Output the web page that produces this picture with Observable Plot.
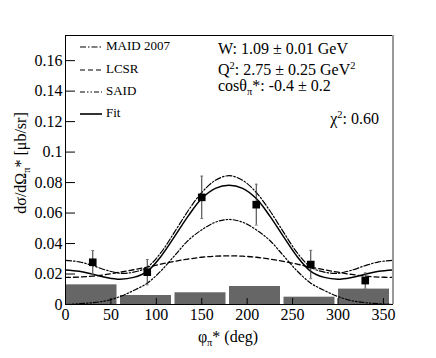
<!DOCTYPE html>
<html><head><meta charset="utf-8">
<script src="https://cdn.jsdelivr.net/npm/d3@7"></script>
<script src="https://cdn.jsdelivr.net/npm/@observablehq/plot@0.6"></script>
<style>
body{margin:0;background:#fff;}
#wrap{position:relative;width:436px;height:358px;font-family:"Liberation Serif","Times New Roman",serif;color:#000;}
#wrap svg, #wrap svg text{font-family:"Liberation Serif","Times New Roman",serif !important;}
#wrap svg g[aria-label="x-axis tick label"], #wrap svg g[aria-label="y-axis tick label"]{font-size:16px;}
.lab{position:absolute;white-space:nowrap;line-height:1;}
sub,sup{font-size:65%;line-height:0;}
.leg{position:absolute;left:80px;font-size:13px;line-height:1;white-space:nowrap;}
.leg svg{vertical-align:middle;margin-right:4px;}
</style></head><body><div id="wrap"></div>
<script>
// theory curves sampled every 15 degrees
const phiCurve = [0,15,30,45,60,75,90,105,120,135,150,165,180,195,210,225,240,255,270,285,300,315,330,345,360];
const maid2007 = [0.0290,0.0280,0.0255,0.0225,0.0205,0.0212,0.0245,0.0340,0.0475,0.0615,0.0735,0.0815,0.0845,0.0815,0.0735,0.0615,0.0475,0.0340,0.0245,0.0212,0.0205,0.0225,0.0255,0.0280,0.0290];
const lcsr = [0.0178,0.0180,0.0186,0.0197,0.0212,0.0228,0.0245,0.0265,0.0283,0.0298,0.0310,0.0317,0.0319,0.0317,0.0310,0.0298,0.0283,0.0265,0.0245,0.0228,0.0212,0.0197,0.0186,0.0180,0.0178];
const said = [0.0000,0.0005,0.0012,0.0025,0.0052,0.0092,0.0140,0.0220,0.0320,0.0420,0.0490,0.0540,0.0558,0.0540,0.0490,0.0420,0.0320,0.0220,0.0140,0.0092,0.0052,0.0025,0.0012,0.0005,0.0000];
const fit = [0.0227,0.0218,0.0198,0.0177,0.0166,0.0178,0.0218,0.0315,0.0445,0.0580,0.0695,0.0762,0.0783,0.0762,0.0695,0.0580,0.0445,0.0315,0.0218,0.0178,0.0166,0.0177,0.0198,0.0218,0.0227];

// measured points
const phiData = [30,90,150,210,270,330];
const sigma = [0.0277,0.0212,0.0703,0.0655,0.0262,0.0157];
const sigmaErr = [0.0077,0.0083,0.0139,0.0134,0.0093,0.0050];

// systematic error bars
const binLo = [0,60,120,180,240,300];
const binHi = [60,120,180,240,300,360];
const sysErr = [0.0129,0.0059,0.0077,0.0118,0.0048,0.0101];

const xTicks = [0,50,100,150,200,250,300,350];
const yTicks = [0,0.02,0.04,0.06,0.08,0.1,0.12,0.14,0.16];

const curves = phiCurve.map((p,i)=>({p, maid:maid2007[i], lcsr:lcsr[i], said:said[i], fit:fit[i]}));
const pts = phiData.map((p,i)=>({p, y:sigma[i], e:sigmaErr[i]}));
const bars = binLo.map((lo,i)=>({lo, hi:binHi[i], v:sysErr[i]}));

const chart = Plot.plot({
  width: 436, height: 358,
  marginLeft: 65, marginTop: 35, marginRight: 44, marginBottom: 54,
  style: {fontFamily: '"Liberation Serif","Times New Roman",serif', fontSize: "16px", color: "#000", background: "#fff"},
  x: {domain: [0,360], label: null},
  y: {domain: [0,0.1765], label: null},
  marks: [
    Plot.rectY(bars, {x1:"lo", x2:"hi", y:"v", fill:"#666", insetLeft:0.5, insetRight:3}),
    Plot.line(curves, {x:"p", y:"said", stroke:"#000", strokeWidth:1.2, strokeDasharray:"5,2,1.5,2,1.5,2", curve:"catmull-rom"}),
    Plot.line(curves, {x:"p", y:"lcsr", stroke:"#000", strokeWidth:1.3, strokeDasharray:"5,3", curve:"catmull-rom"}),
    Plot.line(curves, {x:"p", y:"maid", stroke:"#000", strokeWidth:1.2, strokeDasharray:"6,2,1.5,2", curve:"catmull-rom"}),
    Plot.line(curves, {x:"p", y:"fit", stroke:"#000", strokeWidth:1.5, curve:"catmull-rom"}),
    Plot.ruleX(pts, {x:"p", y1:d=>d.y-d.e, y2:d=>d.y+d.e, stroke:"#333", strokeWidth:1}),
    Plot.link(pts, {x1:d=>d.p-1.6, x2:d=>d.p+1.6, y1:d=>d.y+d.e, y2:d=>d.y+d.e, stroke:"#777", strokeWidth:1}),
    Plot.link(pts, {x1:d=>d.p-1.6, x2:d=>d.p+1.6, y1:d=>d.y-d.e, y2:d=>d.y-d.e, stroke:"#777", strokeWidth:1}),
    Plot.dot(pts, {x:"p", y:"y", symbol:"square", r:4.3, fill:"#000", stroke:null}),
    Plot.axisX({ticks:xTicks, tickSize:-6, tickPadding:10, tickFormat:d=>String(d), fontSize:16}),
    Plot.axisY({ticks:yTicks, tickSize:-10, tickPadding:13, tickFormat:d3.format("~g"), fontSize:16}),
    Plot.frame({stroke:"#000", strokeWidth:1}),
    Plot.ruleX([360], {stroke:"#999", strokeWidth:2, dx:0.5})
  ]
});
const wrap = document.getElementById("wrap");
wrap.appendChild(chart);

function add(html, css){ const d=document.createElement("div"); d.className="lab"; d.innerHTML=html; Object.assign(d.style, css); wrap.appendChild(d); return d; }

// legend
const legend = [
  {name:"MAID 2007", dash:"6,2,1.5,2", y:47},
  {name:"LCSR", dash:"5,3", y:70},
  {name:"SAID", dash:"5,2,1.5,2,1.5,2", y:92},
  {name:"Fit", dash:null, y:114}
];
legend.forEach(l=>{
  const d=document.createElement("div"); d.className="leg";
  d.style.top=(l.y-8)+"px";
  d.innerHTML=`<svg width="22" height="8"><line x1="0" x2="22" y1="4" y2="4" stroke="#000" stroke-width="${l.dash?1.2:1.6}" ${l.dash?`stroke-dasharray="${l.dash}"`:""}/></svg>${l.name}`;
  wrap.appendChild(d);
});

// annotations
add("W: 1.09 ± 0.01 GeV", {left:"218px", top:"41px", fontSize:"16px"});
add("Q<sup>2</sup>: 2.75 ± 0.25 GeV<sup>2</sup>", {left:"218px", top:"62px", fontSize:"16px"});
add("cosθ<sub>π</sub>*: -0.4 ± 0.2", {left:"218px", top:"78px", fontSize:"16px"});
add("χ<sup>2</sup>: 0.60", {right:"57px", top:"111px", fontSize:"16px"});

// axis titles
add("φ<sub>π</sub>* (deg)", {left:"228px", top:"337px", fontSize:"16px", transform:"translate(-50%,-50%)"});
add("dσ/dΩ<sub>π</sub>* [μb/sr]", {left:"21px", top:"163px", fontSize:"16px", transform:"translate(-50%,-50%) rotate(-90deg)"});
</script></body></html>
